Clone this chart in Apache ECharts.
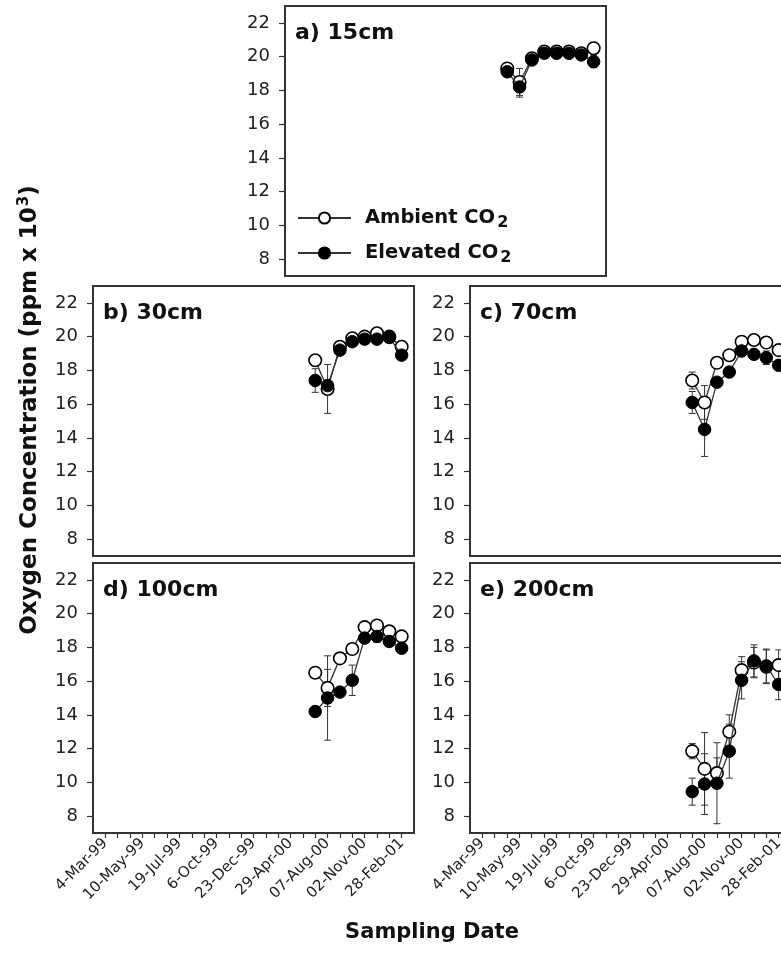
<!DOCTYPE html>
<html>
<head>
<meta charset="UTF-8">
<title>oxygen</title>
<script src="https://cdn.jsdelivr.net/npm/echarts@6/dist/echarts.min.js"></script>
<style>
    html, body { margin: 0; padding: 0; overflow: hidden; background: #fff; }
    #main { width: 800px; height: 969px; }
</style>
</head>
<body>
<div id="main"></div>
<script type="text/javascript">
    // axis stuff
    var dateLabels = ['4-Mar-99', '10-May-99', '19-Jul-99', '6-Oct-99', '23-Dec-99',
        '29-Apr-00', '07-Aug-00', '02-Nov-00', '28-Feb-01'];
    var yTicks = [8, 10, 12, 14, 16, 18, 20, 22];
    var sampleIdx = [17, 18, 19, 20, 21, 22, 23, 24];   // position of each sampling on the date axis
    var panelNames = ['a) 15cm', 'b) 30cm', 'c) 70cm', 'd) 100cm', 'e) 200cm'];

    // oxygen (ppm x 10^3), ambient / elevated, with error bar half widths
    var amb15 = [19.3, 18.5, 19.9, 20.3, 20.3, 20.3, 20.2, 20.5];
    var elev15 = [19.1, 18.2, 19.8, 20.2, 20.2, 20.2, 20.1, 19.7];
    var amb15Err = [0.2, 0.8, 0.2, 0.2, 0.2, 0.2, 0.2, 0.35];
    var elev15Err = [0.2, 0.6, 0.2, 0.2, 0.2, 0.2, 0.2, 0.35];

    var amb30 = [18.6, 16.9, 19.4, 19.9, 20.0, 20.2, 20.0, 19.4];
    var elev30 = [17.4, 17.1, 19.2, 19.7, 19.85, 19.85, 19.95, 18.9];
    var amb30Err = [0.3, 1.45, 0.2, 0.2, 0.2, 0.2, 0.2, 0.2];
    var elev30Err = [0.7, 0.3, 0.2, 0.2, 0.2, 0.2, 0.2, 0.2];

    var amb70 = [17.4, 16.1, 18.45, 18.9, 19.7, 19.8, 19.65, 19.2];
    var elev70 = [16.1, 14.5, 17.3, 17.9, 19.15, 18.95, 18.75, 18.3];
    var amb70Err = [0.5, 1.0, 0.2, 0.2, 0.2, 0.2, 0.2, 0.2];
    var elev70Err = [0.65, 1.6, 0.2, 0.2, 0.2, 0.2, 0.4, 0.2];

    var amb100 = [16.5, 15.6, 17.35, 17.9, 19.2, 19.3, 18.95, 18.65];
    var elev100 = [14.2, 15.0, 15.35, 16.05, 18.55, 18.65, 18.35, 17.95];
    var amb100Err = [0.2, 1.1, 0.2, 0.2, 0.2, 0.2, 0.2, 0.2];
    var elev100Err = [0.2, 2.5, 0.2, 0.9, 0.2, 0.35, 0.2, 0.2];

    var amb200 = [11.85, 10.8, 10.55, 13.0, 16.65, 17.1, 16.85, 16.95];
    var elev200 = [9.45, 9.9, 9.95, 11.85, 16.05, 17.2, 16.9, 15.8];
    var amb200Err = [0.45, 2.15, 0.9, 1.0, 0.8, 0.9, 1.0, 0.9];
    var elev200Err = [0.8, 1.8, 2.4, 1.6, 1.1, 0.95, 1.0, 0.9];

    var ambAll = [amb15, amb30, amb70, amb100, amb200];
    var elevAll = [elev15, elev30, elev70, elev100, elev200];
    var ambErrAll = [amb15Err, amb30Err, amb70Err, amb100Err, amb200Err];
    var elevErrAll = [elev15Err, elev30Err, elev70Err, elev100Err, elev200Err];

    // panel boxes (right column runs past the window edge like the figure)
    var boxes = [
        {left: 285, top: 6},
        {left: 93, top: 286},
        {left: 470, top: 286},
        {left: 93, top: 563},
        {left: 470, top: 563}
    ];
    var BOX_W = 321, BOX_H = 270;
    var FONT = '"DejaVu Sans", sans-serif';

    var xTickVals = [];
    for (var t = 0; t < 25; t++) xTickVals.push(t);
    var xLabelVals = dateLabels.map(function (d, i) { return i * 3; });

    function renderErr(params, api) {
        var x = api.value(0), v = api.value(1), e = api.value(2);
        var top = api.coord([x, v + e]);
        var bot = api.coord([x, v - e]);
        var hw = 3.5;
        var st = {stroke: '#333', lineWidth: 1};
        return {
            type: 'group',
            children: [
                {type: 'line', shape: {x1: top[0], y1: top[1], x2: bot[0], y2: bot[1]}, style: st},
                {type: 'line', shape: {x1: top[0] - hw, y1: top[1], x2: top[0] + hw, y2: top[1]}, style: st},
                {type: 'line', shape: {x1: bot[0] - hw, y1: bot[1], x2: bot[0] + hw, y2: bot[1]}, style: st}
            ]
        };
    }

    function pairs(vals) {
        return vals.map(function (v, i) { return [sampleIdx[i], v]; });
    }
    function triples(vals, errs) {
        return vals.map(function (v, i) { return [sampleIdx[i], v, errs[i]]; });
    }

    var grid = [], xAxis = [], yAxis = [], series = [], graphic = [];

    for (var p = 0; p < 5; p++) {
        var b = boxes[p];
        var hasDates = (p === 3 || p === 4);
        grid.push({
            left: b.left, top: b.top, width: BOX_W, height: BOX_H,
            show: true, borderColor: '#333', borderWidth: 2, backgroundColor: '#fff'
        });
        xAxis.push({
            gridIndex: p, type: 'value', min: -1, max: 25,
            splitLine: {show: false},
            axisLine: {show: true, onZero: false, lineStyle: {color: '#333', width: 2}},
            axisTick: {show: hasDates, inside: false, length: 5, customValues: xTickVals,
                lineStyle: {color: '#333', width: 1.2}},
            axisLabel: {
                show: hasDates, customValues: xLabelVals, rotate: 45, margin: 8,
                fontFamily: FONT, fontSize: 15, color: '#222',
                formatter: function (v) { return dateLabels[Math.round(v / 3)]; }
            }
        });
        yAxis.push({
            gridIndex: p, type: 'value', min: 7, max: 23,
            splitLine: {show: false},
            axisLine: {show: true, onZero: false, lineStyle: {color: '#333', width: 2}},
            axisTick: {show: true, inside: false, length: 6, customValues: yTicks,
                lineStyle: {color: '#333', width: 1.2}},
            axisLabel: {customValues: yTicks, margin: 15, fontFamily: FONT, fontSize: 18, color: '#222'}
        });
        series.push({
            name: 'errA' + p, type: 'custom', xAxisIndex: p, yAxisIndex: p,
            renderItem: renderErr, data: triples(ambAll[p], ambErrAll[p]), z: 1, silent: true
        });
        series.push({
            name: 'errE' + p, type: 'custom', xAxisIndex: p, yAxisIndex: p,
            renderItem: renderErr, data: triples(elevAll[p], elevErrAll[p]), z: 1, silent: true
        });
        series.push({
            name: 'Ambient CO2', type: 'line', xAxisIndex: p, yAxisIndex: p,
            data: pairs(ambAll[p]), symbol: 'circle', symbolSize: 12.5, z: 3,
            lineStyle: {color: '#333', width: 1.3},
            itemStyle: {color: '#fff', borderColor: '#000', borderWidth: 1.6}
        });
        series.push({
            name: 'Elevated CO2', type: 'line', xAxisIndex: p, yAxisIndex: p,
            data: pairs(elevAll[p]), symbol: 'circle', symbolSize: 12.5, z: 4,
            lineStyle: {color: '#333', width: 1.3},
            itemStyle: {color: '#000', borderColor: '#000', borderWidth: 1}
        });
        graphic.push({
            type: 'text', x: b.left + 10, y: b.top + 27, z: 10,
            style: {text: panelNames[p], font: 'bold 22px ' + FONT, fill: '#111', verticalAlign: 'middle'}
        });
    }

    graphic.push({
        type: 'text', x: 30, y: 410, rotation: Math.PI / 2,
        style: {
            text: '{t|Oxygen Concentration (ppm x 10}{p|3}{t|)}',
            align: 'center', verticalAlign: 'middle', fill: '#111',
            rich: {
                t: {fontFamily: FONT, fontWeight: 'bold', fontSize: 23, lineHeight: 27},
                p: {fontFamily: FONT, fontWeight: 'bold', fontSize: 15, lineHeight: 15, padding: [0, 0, 12, 1]}
            }
        }
    });
    graphic.push({
        type: 'text', x: 432, y: 933,
        style: {text: 'Sampling Date', font: 'bold 21px ' + FONT, fill: '#111', align: 'center', verticalAlign: 'middle'}
    });

    var chart = echarts.init(document.getElementById('main'));
    var option = {
        animation: false,
        backgroundColor: '#fff',
        grid: grid,
        xAxis: xAxis,
        yAxis: yAxis,
        legend: {
            data: ['Ambient CO2', 'Elevated CO2'],
            orient: 'vertical', left: 297, top: 205, padding: 0,
            itemWidth: 53, itemHeight: 14, itemGap: 9,
            selectedMode: false,
            formatter: function (name) {
                return name === 'Ambient CO2' ? '{t|Ambient CO}{s|2}' : '{t|Elevated CO}{s|2}';
            },
            textStyle: {
                color: '#111',
                rich: {
                    t: {fontFamily: FONT, fontWeight: 'bold', fontSize: 19.5, lineHeight: 26, padding: [0, 0, 0, 9]},
                    s: {fontFamily: FONT, fontWeight: 'bold', fontSize: 16, lineHeight: 16, padding: [10, 0, 0, 2]}
                }
            }
        },
        graphic: graphic,
        series: series
    };
    option && chart.setOption(option);
</script>
</body>
</html>
